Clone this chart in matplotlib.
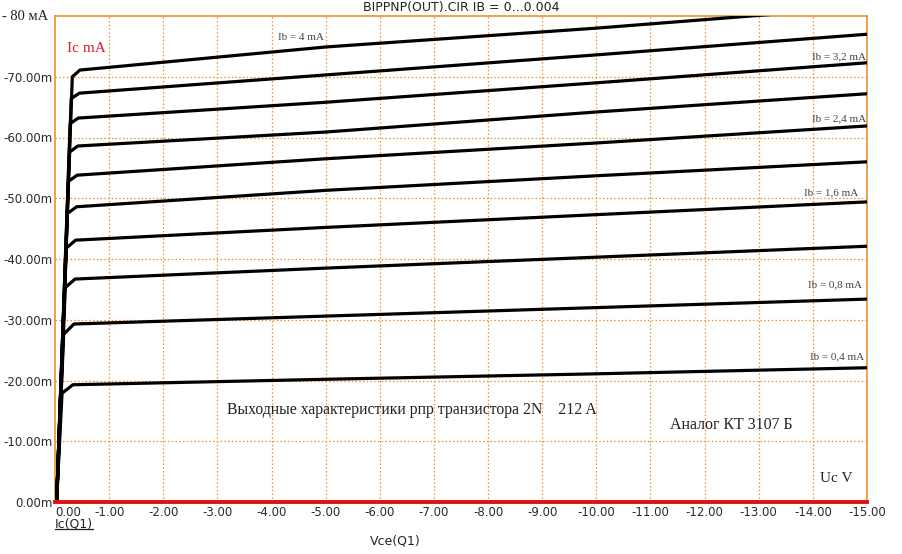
import matplotlib
matplotlib.use('Agg')
import matplotlib.pyplot as plt

# ---- data ----
ib_ma = [0.4, 0.8, 1.2, 1.6, 2.0, 2.4, 2.8, 3.2, 3.6, 4.0]
# steep (saturation) part ends at the bend, then curve flattens at the knee
bend_v = [-0.13, -0.16, -0.19, -0.21, -0.23, -0.25, -0.27, -0.28, -0.30, -0.32]
bend_ic = [-17.9, -27.6, -35.3, -41.8, -47.5, -52.8, -57.6, -62.3, -66.4, -70.0]
knee_v = [-0.33, -0.35, -0.37, -0.38, -0.40, -0.41, -0.42, -0.43, -0.45, -0.46]
knee_ic = [-19.3, -29.3, -36.7, -43.1, -48.6, -53.8, -58.6, -63.2, -67.3, -71.1]
vce_tail = [-5.0, -10.0, -15.0]
ic_at_5 = [-20.2, -30.6, -38.5, -45.2, -51.3, -56.5, -60.9, -65.8, -70.3, -74.9]
ic_at_10 = [-21.1, -32.0, -40.3, -47.3, -53.7, -59.1, -64.2, -69.0, -73.6, -78.0]
ic_at_15 = [-22.1, -33.4, -42.1, -49.4, -56.0, -61.9, -67.2, -72.3, -77.0, -81.5]
start_v = -0.03

x_ticks = [0, -1, -2, -3, -4, -5, -6, -7, -8, -9, -10, -11, -12, -13, -14, -15]
x_tick_labels = ["0.00", "-1.00", "-2.00", "-3.00", "-4.00", "-5.00", "-6.00", "-7.00",
                 "-8.00", "-9.00", "-10.00", "-11.00", "-12.00", "-13.00", "-14.00", "-15.00"]
y_ticks = [0, -10, -20, -30, -40, -50, -60, -70]
y_tick_labels = ["0.00m", "-10.00m", "-20.00m", "-30.00m", "-40.00m", "-50.00m", "-60.00m", "-70.00m"]

ib_text = ["Ib = 0,4 mA", "Ib = 0,8 mA", "Ib = 1,6 mA", "Ib = 2,4 mA", "Ib = 3,2 mA", "Ib = 4 mA"]
ib_text_pos = [(-14.95, -23.9, 'right'), (-14.9, -35.7, 'right'), (-14.84, -50.9, 'right'),
               (-14.98, -63.0, 'right'), (-14.98, -73.3, 'right'), (-4.55, -76.4, 'center')]

ORANGE = '#E8922E'
SERIF = ['Liberation Serif', 'DejaVu Serif']
SANS = ['DejaVu Sans']

fig = plt.figure(figsize=(9.02, 5.54), dpi=100)
W, H = 902, 554
ax = fig.add_axes([55 / W, (H - 502) / H, (867 - 55) / W, (502 - 16) / H])

ax.set_xlim(0, -15)
ax.set_ylim(0, -80)

# grid
for xv in x_ticks[1:-1]:
    ax.axvline(xv, color=ORANGE, lw=0.9, ls=(0, (1.2, 1.8)), zorder=1)
for yv in y_ticks[1:]:
    ax.axhline(yv, color=ORANGE, lw=0.9, ls=(0, (1.2, 1.8)), zorder=1)

# curves
for i in range(len(ib_ma)):
    xs = [start_v, bend_v[i], knee_v[i]] + vce_tail
    ys = [0, bend_ic[i], knee_ic[i], ic_at_5[i], ic_at_10[i], ic_at_15[i]]
    ax.plot(xs, ys, color='black', lw=2.3, solid_joinstyle='round', solid_capstyle='round', zorder=3)

# Ib = 0 curve (red)
ax.plot([0, -15], [0, 0], color='#E01010', lw=2.8, clip_on=False, zorder=4)

for s in ['top', 'left', 'right']:
    ax.spines[s].set_color(ORANGE)
    ax.spines[s].set_linewidth(1.2)
ax.spines['bottom'].set_visible(False)

ax.set_xticks(x_ticks)
ax.set_xticklabels(x_tick_labels)
ax.set_yticks(y_ticks)
ax.set_yticklabels(y_tick_labels)
ax.tick_params(length=0, pad=2, labelsize=8.5, colors='#2a2a2a', labelfontfamily='DejaVu Sans')
ax.tick_params(axis='x', pad=3)
for lab in ax.get_xticklabels():
    if lab.get_text() == "0.00":
        lab.set_horizontalalignment('left')

# texts
fig.text(461 / W, 1 - 8 / H, "BIPPNP(OUT).CIR IB = 0...0.004", ha='center', va='center',
         fontsize=9, family=SANS, color='#222222')
fig.text(2 / W, 1 - 17 / H, "- 80 мА", ha='left', va='center', fontsize=10.5,
         family=SERIF, color='#222222')
ax.text(-0.23, -74.6, "Ic mA", ha='left', va='center', fontsize=11, family=SERIF, color='#D02030')
for t, (xp, yp, ha) in zip(ib_text, ib_text_pos):
    ax.text(xp, yp, t, ha=ha, va='center', fontsize=8, family=SERIF, color='#444444', zorder=5)
ax.text(-6.6, -15.1, "Выходные характеристики рпр транзистора 2N    212 A", ha='center', va='center',
        fontsize=11.3, family=SERIF, color='#222222', zorder=5)
ax.text(-12.5, -12.7, "Аналог КТ 3107 Б", ha='center', va='center', fontsize=11.4, family=SERIF,
        color='#222222', zorder=5)
ax.text(-14.43, -3.8, "Uc V", ha='center', va='center', fontsize=11, family=SERIF,
        color='#222222', zorder=5)

ic_lab = fig.text(55 / W, 1 - 524 / H, "Ic(Q1)", ha='left', va='center', fontsize=9,
                  family=SANS, color='#222222')
fig.text(395 / W, 1 - 541 / H, "Vce(Q1)", ha='center', va='center', fontsize=9,
         family=SANS, color='#222222')

fig.canvas.draw()
bb = ic_lab.get_window_extent().transformed(fig.transFigure.inverted())
fig.add_artist(plt.Line2D([bb.x0, bb.x1], [bb.y0 + 0.002, bb.y0 + 0.002], transform=fig.transFigure,
                          color='#222222', lw=0.9))

fig.savefig('out.png', dpi=100)
